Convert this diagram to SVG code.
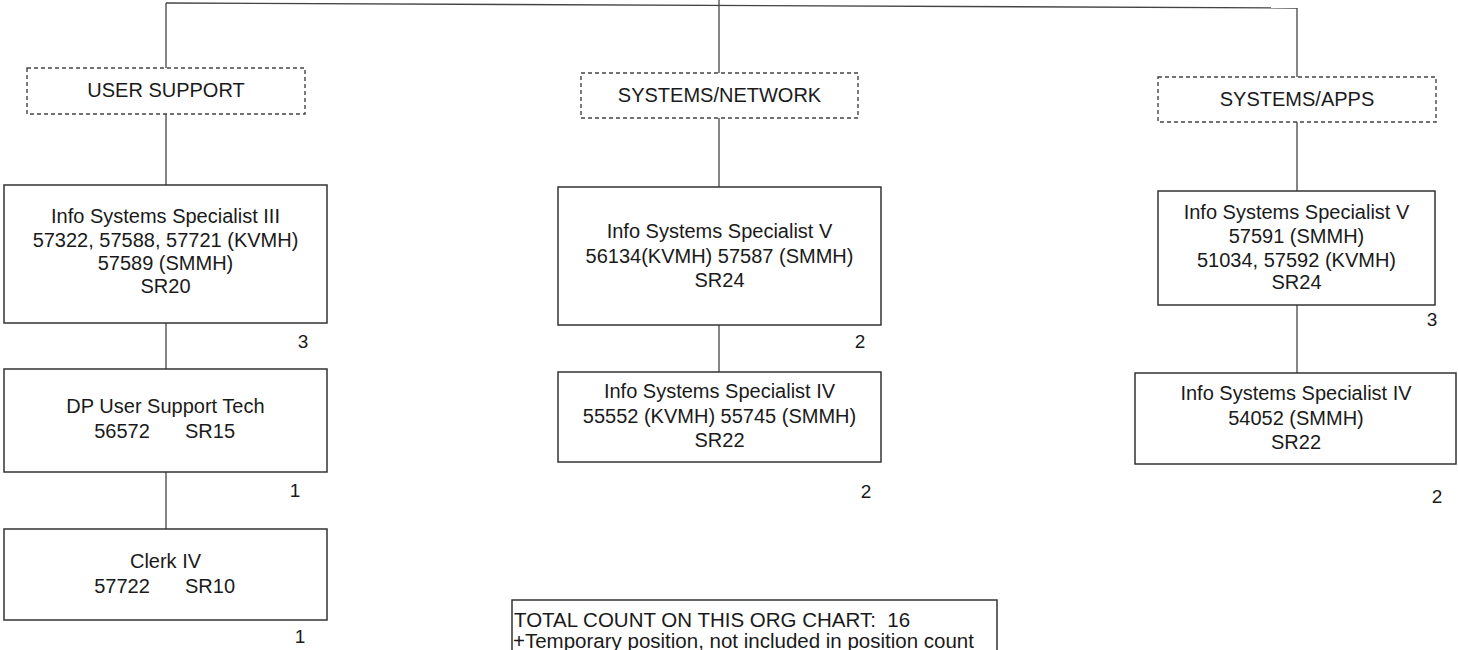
<svg xmlns="http://www.w3.org/2000/svg" width="1458" height="650" viewBox="0 0 1458 650">
<style>
text{font-family:"Liberation Sans",Arial,sans-serif;font-size:20px;fill:#1a1a1a;text-anchor:middle}
.box{fill:#fff;stroke:#333;stroke-width:1.5}
.dash{fill:#fff;stroke:#444;stroke-width:1.4;stroke-dasharray:4 3}
.ln{stroke:#444;stroke-width:1.3;fill:none}
.cnt{font-size:19px}
.note{text-anchor:start;font-size:20.5px}
</style>
<rect width="1458" height="650" fill="#fff"/>
<g id="connectors">
<line class="ln" x1="166" y1="3" x2="1297" y2="8"/>
<line class="ln" x1="719" y1="0" x2="719" y2="73"/>
<line class="ln" x1="166" y1="3" x2="166" y2="68"/>
<line class="ln" x1="1297" y1="8" x2="1297" y2="77"/>
<line class="ln" x1="166" y1="114" x2="166" y2="185"/>
<line class="ln" x1="166" y1="323" x2="166" y2="369"/>
<line class="ln" x1="166" y1="472" x2="166" y2="529"/>
<line class="ln" x1="719" y1="118" x2="719" y2="187"/>
<line class="ln" x1="719" y1="325" x2="719" y2="372"/>
<line class="ln" x1="1297" y1="122" x2="1297" y2="191"/>
<line class="ln" x1="1297" y1="305" x2="1297" y2="373"/>
</g>
<g id="user-support">
<rect class="dash" x="27" y="68" width="278" height="46"/>
<text x="166" y="97">USER SUPPORT</text>
</g>
<g id="systems-network">
<rect class="dash" x="581" y="73" width="277" height="45"/>
<text x="719.5" y="102">SYSTEMS/NETWORK</text>
</g>
<g id="systems-apps">
<rect class="dash" x="1158" y="77" width="278" height="45"/>
<text x="1297" y="106">SYSTEMS/APPS</text>
</g>
<g id="iss3">
<rect class="box" x="4" y="185" width="323" height="138"/>
<text x="165.5" y="223">Info Systems Specialist III</text>
<text x="165.5" y="246.5">57322, 57588, 57721 (KVMH)</text>
<text x="165.5" y="270">57589 (SMMH)</text>
<text x="165.5" y="293">SR20</text>
<text class="cnt" x="303" y="348">3</text>
</g>
<g id="dp-tech">
<rect class="box" x="4" y="369" width="323" height="103"/>
<text x="165.5" y="413">DP User Support Tech</text>
<text y="438"><tspan x="122">56572</tspan><tspan x="210">SR15</tspan></text>
<text class="cnt" x="295" y="497">1</text>
</g>
<g id="clerk4">
<rect class="box" x="4" y="529" width="323" height="91"/>
<text x="165.5" y="568">Clerk IV</text>
<text y="593"><tspan x="122">57722</tspan><tspan x="210">SR10</tspan></text>
<text class="cnt" x="300" y="643">1</text>
</g>
<g id="iss5-net">
<rect class="box" x="558" y="187" width="323" height="138"/>
<text x="719.5" y="238">Info Systems Specialist V</text>
<text x="719.5" y="263">56134(KVMH) 57587 (SMMH)</text>
<text x="719.5" y="287">SR24</text>
<text class="cnt" x="860" y="348">2</text>
</g>
<g id="iss4-net">
<rect class="box" x="558" y="372" width="323" height="90"/>
<text x="719.5" y="398">Info Systems Specialist IV</text>
<text x="719.5" y="423">55552 (KVMH) 55745 (SMMH)</text>
<text x="719.5" y="447">SR22</text>
<text class="cnt" x="866" y="498">2</text>
</g>
<g id="iss5-apps">
<rect class="box" x="1158" y="191" width="277" height="114"/>
<text x="1296.5" y="219">Info Systems Specialist V</text>
<text x="1296.5" y="243">57591 (SMMH)</text>
<text x="1296.5" y="267">51034, 57592 (KVMH)</text>
<text x="1296.5" y="289">SR24</text>
<text class="cnt" x="1432" y="326">3</text>
</g>
<g id="iss4-apps">
<rect class="box" x="1135" y="373" width="321" height="91"/>
<text x="1296" y="400">Info Systems Specialist IV</text>
<text x="1296" y="425">54052 (SMMH)</text>
<text x="1296" y="449">SR22</text>
<text class="cnt" x="1437" y="503">2</text>
</g>
<g id="total-note">
<rect class="box" x="512" y="600" width="485" height="70"/>
<text class="note" x="514" y="627" style="white-space:pre" xml:space="preserve">TOTAL COUNT ON THIS ORG CHART:  16</text>
<text class="note" x="513" y="648">+Temporary position, not included in position count</text>
</g>
</svg>
